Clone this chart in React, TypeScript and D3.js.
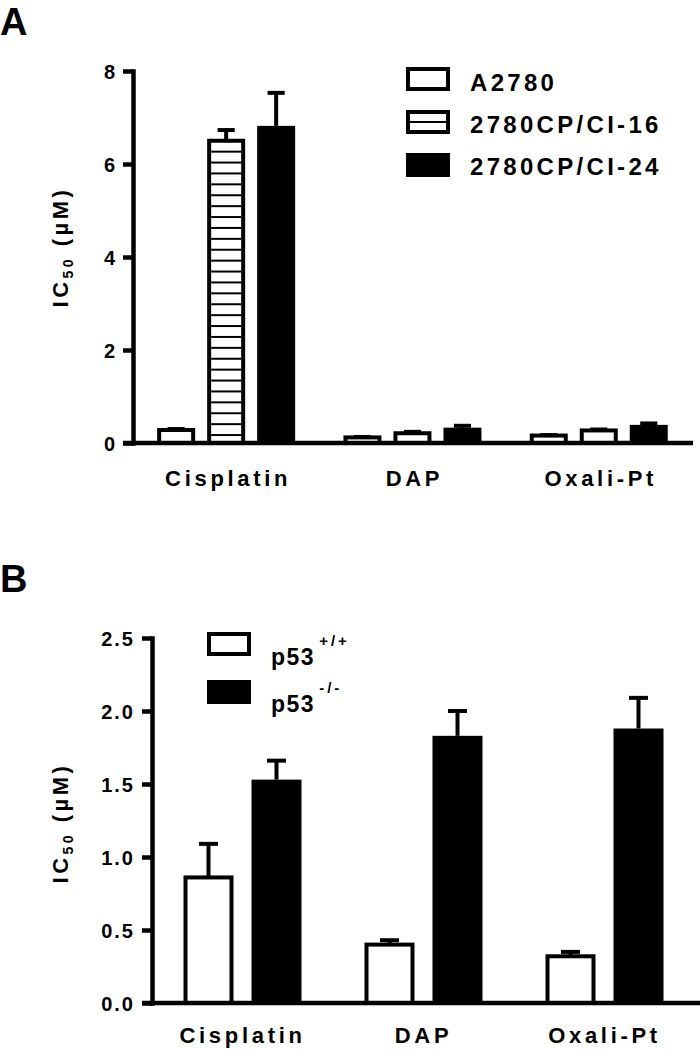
import React, { useRef, useEffect } from "react";
import * as d3 from "d3";

// categories
const groups = ["Cisplatin", "DAP", "Oxali-Pt"];

// panel A series (IC50, µM) and SEM
const seriesA = ["A2780", "2780CP/CI-16", "2780CP/CI-24"];
const a2780 = [0.28, 0.12, 0.16];
const a2780Err = [0.02, 0.01, 0.01];
const cp16 = [6.5, 0.21, 0.27];
const cp16Err = [0.23, 0.03, 0.02];
const cp24 = [6.82, 0.33, 0.39];
const cp24Err = [0.71, 0.04, 0.03];
const ticksA = [0, 2, 4, 6, 8];

// panel B series
const seriesB = ["p53+/+", "p53-/-"];
const p53wt = [0.86, 0.4, 0.32];
const p53wtErr = [0.23, 0.03, 0.03];
const p53ko = [1.53, 1.83, 1.88];
const p53koErr = [0.13, 0.17, 0.21];
const ticksB = [0, 0.5, 1, 1.5, 2, 2.5];

const FONT = "'Liberation Sans', Arial, sans-serif";
const SW = 4; // stroke width of outlines / axes

type Style = "open" | "hatch" | "solid";

const drawPanel = (svg, cfg) => {
  const g = svg.append("g");

  const y = d3.scaleLinear().domain(cfg.yDomain).range([cfg.y0, cfg.y1]);
  const x0 = d3.scaleBand().domain(groups).range([cfg.axisX, cfg.axisX + cfg.groupStep * groups.length]);
  const inner = d3
    .scaleBand()
    .domain(cfg.series)
    .range([(cfg.groupStep - cfg.innerWidth) / 2, (cfg.groupStep + cfg.innerWidth) / 2])
    .paddingInner(cfg.pad)
    .paddingOuter(cfg.pad / 2);
  const bw = inner.bandwidth();

  // bars
  cfg.series.forEach((s, si) => {
    const vals = cfg.values[si];
    const errs = cfg.errors[si];
    const style: Style = cfg.styles[si];
    groups.forEach((grp, gi) => {
      const bx = x0(grp) + inner(s);
      const v = vals[gi];
      const top = y(v);
      if (style === "solid") {
        g.append("rect")
          .attr("x", bx)
          .attr("y", top)
          .attr("width", bw)
          .attr("height", cfg.y0 - top)
          .attr("fill", "#000");
      } else {
        g.append("rect")
          .attr("x", bx + SW / 2)
          .attr("y", top)
          .attr("width", bw - SW)
          .attr("height", cfg.y0 - top)
          .attr("fill", "#fff")
          .attr("stroke", "#000")
          .attr("stroke-width", SW);
        if (style === "hatch") {
          const gap = 10.9;
          for (let ly = top + gap; ly < cfg.y0 - 3; ly += gap) {
            g.append("line")
              .attr("x1", bx + SW)
              .attr("x2", bx + bw - SW)
              .attr("y1", ly)
              .attr("y2", ly)
              .attr("stroke", "#000")
              .attr("stroke-width", 2);
          }
        }
      }
      // error bar (upper only)
      const cx = bx + bw / 2;
      const et = y(v + errs[gi]);
      g.append("line")
        .attr("x1", cx)
        .attr("x2", cx)
        .attr("y1", top)
        .attr("y2", et)
        .attr("stroke", "#000")
        .attr("stroke-width", SW);
      g.append("line")
        .attr("x1", cx - bw * cfg.cap / 2)
        .attr("x2", cx + bw * cfg.cap / 2)
        .attr("y1", et)
        .attr("y2", et)
        .attr("stroke", "#000")
        .attr("stroke-width", SW);
    });
  });

  // y axis
  const yAxis = g
    .append("g")
    .attr("transform", `translate(${cfg.axisX},0)`)
    .call(
      d3
        .axisLeft(y)
        .tickValues(cfg.ticks)
        .tickFormat(cfg.fmt)
        .tickSize(10)
        .tickSizeOuter(0)
        .tickPadding(cfg.tickPad)
    );
  yAxis.select(".domain").attr("stroke-width", SW + 0.5).attr("stroke-linecap", "square");
  yAxis.selectAll(".tick line").attr("stroke-width", SW + 0.5);
  yAxis
    .selectAll(".tick text")
    .attr("font-family", FONT)
    .attr("font-weight", "bold")
    .attr("font-size", 20)
    .attr("letter-spacing", cfg.tickLs)
    .attr("fill", "#000")
    .attr("dy", "0.36em");

  // x axis baseline
  g.append("line")
    .attr("x1", cfg.axisX - 10)
    .attr("x2", cfg.xEnd)
    .attr("y1", cfg.y0)
    .attr("y2", cfg.y0)
    .attr("stroke", "#000")
    .attr("stroke-width", SW + 0.5);

  const xAxis = g
    .append("g")
    .attr("transform", `translate(${cfg.labelShift},${cfg.y0})`)
    .call(d3.axisBottom(x0).tickSize(0).tickSizeOuter(0).tickPadding(cfg.xPad));
  xAxis.select(".domain").remove();
  xAxis
    .selectAll(".tick text")
    .attr("font-family", FONT)
    .attr("font-weight", "bold")
    .attr("font-size", 22)
    .attr("letter-spacing", 3.7)
    .attr("fill", "#000");

  // y title
  const t = g
    .append("text")
    .attr("transform", `translate(${cfg.titleX},${cfg.titleY}) rotate(-90)`)
    .attr("text-anchor", "middle")
    .attr("font-family", FONT)
    .attr("font-weight", "bold")
    .attr("font-size", 22)
    .attr("letter-spacing", 3.5);
  t.append("tspan").text("IC");
  t.append("tspan").attr("font-size", 14).attr("dy", 5).text("50");
  t.append("tspan").attr("dy", -5).text(" (µM)");

  // panel letter
  svg
    .append("text")
    .attr("x", 0)
    .attr("y", cfg.letterY)
    .attr("font-family", FONT)
    .attr("font-weight", "bold")
    .attr("font-size", 38)
    .text(cfg.letter);
};

const legendBox = (svg, x, y, style: Style) => {
  if (style === "solid") {
    svg.append("rect").attr("x", x).attr("y", y).attr("width", 44).attr("height", 24).attr("fill", "#000");
    return;
  }
  svg
    .append("rect")
    .attr("x", x + SW / 2)
    .attr("y", y + SW / 2)
    .attr("width", 44 - SW)
    .attr("height", 24 - SW)
    .attr("fill", "#fff")
    .attr("stroke", "#000")
    .attr("stroke-width", SW);
  if (style === "hatch") {
    svg
      .append("line")
      .attr("x1", x + SW)
      .attr("x2", x + 44 - SW)
      .attr("y1", y + 12)
      .attr("y2", y + 12)
      .attr("stroke", "#000")
      .attr("stroke-width", 2);
  }
};

const D3Chart = (element) => {
  d3.select(element).selectAll("*").remove();
  const svg = d3
    .select(element)
    .append("svg")
    .attr("width", 700)
    .attr("height", 1050)
    .style("position", "absolute")
    .style("left", 0)
    .style("top", 0)
    .style("background", "#fff");

  // Panel A
  drawPanel(svg, {
    letter: "A",
    letterY: 35,
    series: seriesA,
    values: [a2780, cp16, cp24],
    errors: [a2780Err, cp16Err, cp24Err],
    styles: ["open", "hatch", "solid"],
    yDomain: [0, 8],
    y0: 443,
    y1: 71,
    axisX: 133,
    groupStep: 186.3,
    innerWidth: 150,
    pad: 0.24,
    cap: 0.45,
    ticks: ticksA,
    fmt: d3.format("d"),
    tickPad: 8,
    tickLs: 0,
    xEnd: 693,
    xPad: 27,
    labelShift: 2,
    titleX: 68,
    titleY: 247,
  });

  const legA = svg.append("g");
  const legStyles: Style[] = ["open", "hatch", "solid"];
  seriesA.forEach((s, i) => {
    legendBox(legA, 406, 67 + i * 43, legStyles[i]);
    legA
      .append("text")
      .attr("x", 470)
      .attr("y", 91 + i * 42)
      .attr("font-family", FONT)
      .attr("font-weight", "bold")
      .attr("font-size", 24)
      .attr("letter-spacing", 3.3)
      .text(s);
  });

  // Panel B
  drawPanel(svg, {
    letter: "B",
    letterY: 592,
    series: seriesB,
    values: [p53wt, p53ko],
    errors: [p53wtErr, p53koErr],
    styles: ["open", "solid"],
    yDomain: [0, 2.5],
    y0: 1003,
    y1: 638,
    axisX: 152,
    groupStep: 181,
    innerWidth: 136,
    pad: 0.265,
    cap: 0.38,
    ticks: ticksB,
    fmt: d3.format(".1f"),
    tickPad: 7,
    tickLs: 2,
    xEnd: 700,
    xPad: 24,
    labelShift: 0,
    titleX: 68,
    titleY: 823,
  });

  const legB = svg.append("g");
  const supB = ["+/+", "-/-"];
  const bStyles: Style[] = ["open", "solid"];
  seriesB.forEach((s, i) => {
    legendBox(legB, 207, 632 + i * 48, bStyles[i]);
    const t = legB
      .append("text")
      .attr("x", 271)
      .attr("y", 665 + i * 47)
      .attr("font-family", FONT)
      .attr("font-weight", "bold")
      .attr("font-size", 23)
      .attr("letter-spacing", 1.5);
    t.append("tspan").text("p53");
    t.append("tspan")
      .attr("font-size", 15)
      .attr("letter-spacing", 3)
      .attr("dx", 4)
      .attr("dy", -19)
      .text(supB[i]);
  });
};

const App = () => {
  const chartRef = useRef(null);

  useEffect(() => {
    D3Chart(chartRef.current);
  }, []);

  return <div ref={chartRef}></div>;
};

export default App;
